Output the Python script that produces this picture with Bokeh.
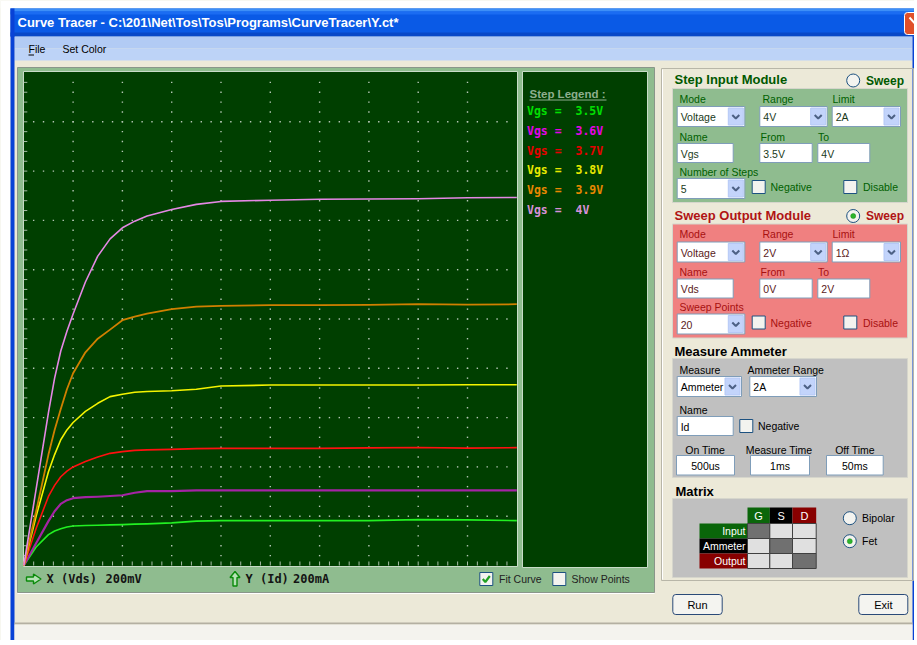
import numpy as np
from bokeh.plotting import figure
from bokeh.models import Range1d
from bokeh.core.properties import value
from bokeh.embed import file_html
from bokeh.resources import INLINE

# ---------------- chart data ----------------
vds = [0, 0.05, 0.1, 0.125, 0.15, 0.175, 0.2, 0.25, 0.3, 0.35, 0.4, 0.45, 0.5,
       0.6, 0.7, 0.8, 1.0, 1.2, 1.4, 1.6, 1.8, 2.0]
vgs_steps = ["3.5V", "3.6V", "3.7V", "3.8V", "3.9V", "4V"]
id_vgs_35 = [0, 0.075, 0.125, 0.14, 0.149, 0.156, 0.16, 0.162, 0.163, 0.165, 0.166, 0.168, 0.169,
             0.173, 0.18, 0.182, 0.182, 0.182, 0.182, 0.186, 0.185, 0.182]
id_vgs_36 = [0, 0.09, 0.18, 0.22, 0.25, 0.265, 0.273, 0.277, 0.279, 0.282, 0.285, 0.295, 0.302,
             0.302, 0.305, 0.305, 0.305, 0.305, 0.305, 0.305, 0.305, 0.305]
id_vgs_37 = [0, 0.15, 0.28, 0.325, 0.36, 0.383, 0.40, 0.422, 0.44, 0.455, 0.462, 0.467, 0.469,
             0.471, 0.474, 0.475, 0.475, 0.475, 0.477, 0.479, 0.476, 0.478]
id_vgs_38 = [0, 0.2, 0.38, 0.45, 0.51, 0.55, 0.58, 0.625, 0.658, 0.685, 0.695, 0.703, 0.706,
             0.709, 0.715, 0.728, 0.732, 0.732, 0.732, 0.732, 0.733, 0.733]
id_vgs_39 = [0, 0.22, 0.45, 0.55, 0.635, 0.715, 0.78, 0.865, 0.92, 0.957, 0.995, 1.01, 1.022,
             1.04, 1.05, 1.053, 1.056, 1.056, 1.057, 1.06, 1.058, 1.06]
id_vgs_40 = [0, 0.31, 0.62, 0.76, 0.87, 0.95, 1.02, 1.15, 1.255, 1.325, 1.37, 1.397, 1.418,
             1.444, 1.465, 1.477, 1.482, 1.486, 1.487, 1.488, 1.492, 1.493]
x_div_label = "200mV"
y_div_label = "200mA"
x_full = 2.0
y_full = 2.0
n_div = 10
n_sub = 5

curves = [id_vgs_35, id_vgs_36, id_vgs_37, id_vgs_38, id_vgs_39, id_vgs_40]
curve_colors = ["#22f022", "#a424a4", "#ff1010", "#f4f400", "#d08000", "#e488e4"]
curve_widths = [1.6, 2.2, 1.6, 1.6, 1.8, 1.6]
legend_colors = ["#00e000", "#e800e8", "#e80000", "#e8e800", "#e88800", "#d890d8"]

# ---------------- figure in window pixel coordinates ----------------
FW, FH = 914, 640
p = figure(width=FW, height=FH, x_range=Range1d(0, FW), y_range=Range1d(FH, 0),
           output_backend="svg", toolbar_location=None, tools="", min_border=0,
           x_axis_location=None, y_axis_location=None, title=None)
p.grid.visible = False
p.outline_line_color = None
p.background_fill_color = "#ece9d8"
p.border_fill_color = "#ece9d8"

# scope scales: origin and pixels per unit of the plot area
X0, Y0, PPU = 23.3, 565.0, 246.5
p.extra_x_ranges = {"vds": Range1d((0 - X0) / PPU, (FW - X0) / PPU)}
p.extra_y_ranges = {"id": Range1d((Y0 - FH) / PPU, (Y0 - 0) / PPU)}

UI = "Liberation Sans"
MONO = "DejaVu Sans Mono"


def box(x0, y0, x1, y1, fill, line=None, lw=1, radius=0):
    kw = {}
    if radius:
        kw["border_radius"] = radius
    p.quad(left=[x0], right=[x1], top=[y0], bottom=[y1], fill_color=fill,
           line_color=line, line_width=lw, **kw)


def txt(x, y, s, color="#000000", size=10.5, font=UI, bold=False, align="left"):
    p.text(x=[x], y=[y], text=[s], text_color=color, text_font=value(font),
           text_font_size=f"{size}px", text_font_style="bold" if bold else "normal",
           text_align=align, text_baseline="middle")


def combo(x0, y0, x1, y1, s, color="#000000"):
    box(x0, y0, x1, y1, "white", "#7f9db9")
    bx0, bx1 = x1 - 16.5, x1 - 1.5
    box(bx0, y0 + 1.5, bx1, y1 - 1.5, "#c3d4fb", "#b4c8f6")
    cx, cy = (bx0 + bx1) / 2, (y0 + y1) / 2
    p.line([cx - 3.5, cx, cx + 3.5], [cy - 1.5, cy + 2, cy - 1.5], line_color="#4d6185", line_width=2)
    txt(x0 + 3.5, (y0 + y1) / 2 + 0.5, s, color)


def textbox(x0, y0, x1, y1, s, color="#000000", center=False):
    box(x0, y0, x1, y1, "white", "#7f9db9")
    if center:
        txt((x0 + x1) / 2, (y0 + y1) / 2 + 0.5, s, color, align="center")
    else:
        txt(x0 + 3.5, (y0 + y1) / 2 + 0.5, s, color)


def checkbox(x0, y0, label, color, lx, checked=False):
    box(x0, y0, x0 + 13, y0 + 13, "#f3f3ef", "#1c5180")
    if checked:
        p.line([x0 + 3, x0 + 5.5, x0 + 10], [y0 + 6.5, y0 + 9.5, y0 + 3.5],
               line_color="#21a121", line_width=2.2)
    txt(lx, y0 + 6.5, label, color)


def radio(cx, cy, label, color, lx, checked, bold=False, size=10.5):
    p.scatter([cx], [cy], marker="circle", size=13, fill_color="#f3f3ef",
              line_color="#1c5180", line_width=1)
    if checked:
        p.scatter([cx], [cy], marker="circle", size=5, fill_color="#2db52d",
                  line_color="#1a8a1a", line_width=0.5)
    txt(lx, cy, label, color, size, bold=bold)


# ---------------- window chrome ----------------
box(0, 0, FW, 8, "white")
box(0, 0, 10, FH, "white")
box(10, 8, 930, 36, "#0a5ae6")
box(10, 8, 930, 11, "#3d8ff8")
box(10, 11, 930, 14, "#1b6cf2")
box(10, 32, 930, 36, "#0848c8")
txt(17, 22, "Curve Tracer - C:\\201\\Net\\Tos\\Tos\\Programs\\CurveTracer\\Y.ct*",
    "white", 13, bold=True)
box(904, 12, 930, 34, "#e0502a", "white", radius=3)
p.line([909, 920], [17, 29], line_color="white", line_width=2)

box(14, 36, 912, 48, "#b2cbf4")
box(14, 48, 912, 60, "#bdd3f7")
txt(28, 48, "File")
p.line([28, 33.5], [54.5, 54.5], line_color="black", line_width=1)
txt(62, 48, "Set Color")

box(10, 8, 14, FH, "#0842d6")
box(912, 36, 930, FH, "#0842d6")

box(14, 622, 912, 624, "#b4b0a2")
box(14, 624, 912, FH, "#f4f3ee")

# ---------------- scope panel ----------------
box(17, 67, 654, 592, "#8fbc8f", "#8a968a")
p.line([17, 654], [593, 593], line_color="white", line_width=1)
box(23, 71, 517, 566, "#003f00", "#c8dcc8")
box(522, 71, 647, 567, "#003f00", "#c8dcc8")

# grid dots and edge ticks (in data units)
major_x = np.arange(1, n_div) * (x_full / n_div)
major_y = np.arange(1, n_div) * (y_full / n_div)
minor_x = np.arange(1, n_div * n_sub) * (x_full / (n_div * n_sub))
minor_y = np.arange(1, n_div * n_sub) * (y_full / (n_div * n_sub))
gx = np.concatenate([np.repeat(major_x, len(minor_y)), np.tile(minor_x, len(major_y))])
gy = np.concatenate([np.tile(minor_y, len(major_x)), np.repeat(major_y, len(minor_x))])
p.scatter(gx, gy, marker="square", size=1.4, fill_color="#b4c6b4", line_color=None,
          x_range_name="vds", y_range_name="id")
tick_x = 3.5 / PPU
p.segment(x0=np.zeros_like(minor_y), y0=minor_y, x1=np.full_like(minor_y, tick_x), y1=minor_y,
          line_color="#a8bca8", line_width=1, x_range_name="vds", y_range_name="id")
p.segment(x0=minor_x, y0=np.zeros_like(minor_x), x1=minor_x, y1=np.full_like(minor_x, 4 / PPU),
          line_color="#a8bca8", line_width=1, x_range_name="vds", y_range_name="id")

# characteristic curves
for ids, col, lw in zip(curves, curve_colors, curve_widths):
    p.line(vds, ids, line_color=col, line_width=lw, line_join="round",
           x_range_name="vds", y_range_name="id")

# step legend
txt(529, 93, "Step Legend :", "#8fae8f", 11.5, bold=True)
p.line([529, 606], [99.5, 99.5], line_color="#8fae8f", line_width=1)
for i, (lab, col) in enumerate(zip(vgs_steps, legend_colors)):
    yy = 110.7 + i * 19.66
    txt(526.5, yy, "Vgs =", col, 11.5, font=MONO, bold=True)
    txt(575, yy, lab, col, 11.5, font=MONO, bold=True)

# axis scale labels
p.patch([26, 33, 33, 40.5, 33, 33, 26], [576.5, 576.5, 573.5, 578.5, 583.5, 580.5, 580.5],
        fill_color="#b4e2b4", line_color="#0a8a0a", line_width=1.4)
txt(46, 578.5, "X (Vds)", "#141414", 12, font=MONO, bold=True)
txt(105, 578.5, x_div_label, "#141414", 12, font=MONO, bold=True)
p.patch([234.5, 239.5, 236.5, 236.5, 232.5, 232.5, 229.5], [571, 577, 577, 585.5, 585.5, 577, 577],
        fill_color="#b4e2b4", line_color="#0a8a0a", line_width=1.4)
txt(245, 578.5, "Y (Id)", "#141414", 12, font=MONO, bold=True)
txt(292.5, 578.5, y_div_label, "#141414", 12, font=MONO, bold=True)
checkbox(479.3, 572, "Fit Curve", "#222222", 498.5, checked=True)
checkbox(552.3, 572, "Show Points", "#222222", 571)

# ---------------- right control panel ----------------
box(661, 68, 913, 580, None, "#b8b6a8")
p.line([662, 662], [69, 579], line_color="white", line_width=1)


def io_module(dy, title, tcolor, lcolor, fill, vcolor, checked, fields, count_label):
    txt(674, 79 + dy, title, tcolor, 13, bold=True)
    radio(852.7, 80 + dy, "Sweep", tcolor, 865.5, checked, bold=True, size=12)
    box(672, 88 + dy, 907, 202 + dy, fill, "#d6d6cc")
    txt(679, 98 + dy, "Mode", lcolor)
    txt(762, 98 + dy, "Range", lcolor)
    txt(832, 98 + dy, "Limit", lcolor)
    combo(676.7, 106 + dy, 744.3, 126 + dy, fields[0], vcolor)
    combo(759.3, 106 + dy, 826.7, 126 + dy, fields[1], vcolor)
    combo(831.7, 106 + dy, 900, 126 + dy, fields[2], vcolor)
    txt(679, 136 + dy, "Name", lcolor)
    txt(760, 136 + dy, "From", lcolor)
    txt(817.5, 136 + dy, "To", lcolor)
    textbox(676.7, 143 + dy, 732.7, 162 + dy, fields[3], vcolor)
    textbox(759.3, 143 + dy, 811.7, 162 + dy, fields[4], vcolor)
    textbox(817.3, 143 + dy, 869.3, 162 + dy, fields[5], vcolor)
    txt(679, 171 + dy, count_label, lcolor)
    combo(676.7, 178 + dy, 744.3, 198 + dy, fields[6], vcolor)
    checkbox(751.7, 180 + dy, "Negative", lcolor, 770)
    checkbox(843.3, 180 + dy, "Disable", lcolor, 862.5)


io_module(0, "Step Input Module", "#005800", "#006000", "#8fbc8f", "#1a3a1a", False,
          ["Voltage", "4V", "2A", "Vgs", "3.5V", "4V", "5"], "Number of Steps")
io_module(135.5, "Sweep Output Module", "#b01414", "#a81010", "#f08080", "#5a1a1a", True,
          ["Voltage", "2V", "1Ω", "Vds", "0V", "2V", "20"], "Sweep Points")

# measure ammeter
txt(674, 351, "Measure Ammeter", "#000000", 13, bold=True)
box(672, 358, 907, 477, "#c0c0c0", "#d6d6cc")
txt(679, 369, "Measure")
txt(747, 369, "Ammeter Range")
combo(676.7, 376, 741, 396, "Ammeter")
combo(749.3, 376, 816, 396, "2A")
txt(679, 409, "Name")
textbox(676.7, 416, 732.7, 435, "Id")
checkbox(739.3, 419, "Negative", "#000000", 757.5)
txt(704.7, 449, "On Time", align="center")
txt(778.5, 449, "Measure Time", align="center")
txt(854.5, 449, "Off Time", align="center")
textbox(676, 455, 734, 474.5, "500us", center=True)
textbox(750, 455, 809, 474.5, "1ms", center=True)
textbox(826, 455, 882.7, 474.5, "50ms", center=True)

# matrix
txt(675, 491, "Matrix", "#000000", 13, bold=True)
box(672, 498, 907, 577, "#c0c0c0", "#d6d6cc")
col_x = [747, 769.3, 792, 815.7]
row_y = [507, 523, 538, 553, 568]
head_cols = [("G", "#0a660a"), ("S", "#000000"), ("D", "#880000")]
row_heads = [("Input", "#0a660a"), ("Ammeter", "#000000"), ("Output", "#880000")]
for j, (lab, col) in enumerate(head_cols):
    box(col_x[j], row_y[0], col_x[j + 1], row_y[1], col)
    txt((col_x[j] + col_x[j + 1]) / 2, (row_y[0] + row_y[1]) / 2, lab, "white", 11, align="center")
for i, (lab, col) in enumerate(row_heads):
    box(699, row_y[i + 1], 747, row_y[i + 2], col)
    txt(745, (row_y[i + 1] + row_y[i + 2]) / 2, lab, "white", 10.5, align="right")
    for j in range(3):
        box(col_x[j], row_y[i + 1], col_x[j + 1], row_y[i + 2],
            "#707070" if i == j else "#e0e0e0", "#404040")
radio(849.3, 517.7, "Bipolar", "#000000", 861.5, False)
radio(849.3, 540.7, "Fet", "#000000", 861.5, True)

# buttons
box(672.3, 594, 721.7, 614, "#f4f4f0", "#2a4a78", radius=3)
txt(697, 604.5, "Run", align="center", size=11)
box(858.3, 594, 907.3, 614, "#f4f4f0", "#2a4a78", radius=3)
txt(882.8, 604.5, "Exit", align="center", size=11)

open("out.html", "w").write(file_html(p, INLINE))
